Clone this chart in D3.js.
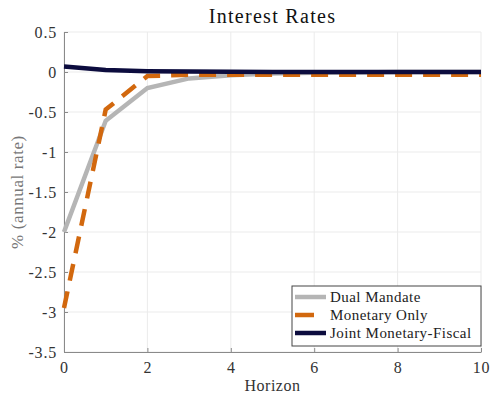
<!DOCTYPE html>
<html>
<head>
<meta charset="utf-8">
<script src="https://cdn.jsdelivr.net/npm/d3@7"></script>
<style>
  body { margin: 0; background: #fff; }
  svg text { font-family: "Liberation Serif", "DejaVu Serif", serif; }
</style>
</head>
<body>
<svg id="chart" width="491" height="395"></svg>
<script>
// horizon steps
var horizon = [0, 1, 2, 3, 4, 5, 6, 7, 8, 9, 10];

// series values (% annual rate)
var dualMandate = [-2.0, -0.61, -0.2, -0.08, -0.04, -0.02, -0.01, -0.005, 0, 0, 0];
var monetaryOnly = [-2.95, -0.47, -0.05, -0.035, -0.035, -0.035, -0.035, -0.035, -0.035, -0.035, -0.035];
var jointFiscal = [0.07, 0.025, 0.01, 0.005, 0.002, 0, 0, 0, 0, 0, 0];

var seriesNames = ["Dual Mandate", "Monetary Only", "Joint Monetary-Fiscal"];
var xTicks = [0, 2, 4, 6, 8, 10];
var yTicks = [0.5, 0, -0.5, -1, -1.5, -2, -2.5, -3, -3.5];

var svg = d3.select("#chart"),
    margin = {top: 32, right: 10, bottom: 43, left: 64},
    width = 491 - margin.left - margin.right,
    height = 395 - margin.top - margin.bottom,
    g = svg.append("g").attr("transform", "translate(" + margin.left + "," + margin.top + ")");

var x = d3.scaleLinear().domain([0, 10]).range([0, width]);
var y = d3.scaleLinear().domain([-3.5, 0.5]).range([height, 0]);

// grid
g.selectAll(".gx").data(xTicks).enter().append("line")
    .attr("x1", function (d) { return x(d); }).attr("x2", function (d) { return x(d); })
    .attr("y1", 0).attr("y2", height)
    .attr("stroke", "#ebebeb").attr("stroke-width", 1);
g.selectAll(".gy").data(yTicks).enter().append("line")
    .attr("y1", function (d) { return y(d); }).attr("y2", function (d) { return y(d); })
    .attr("x1", 0).attr("x2", width)
    .attr("stroke", "#ebebeb").attr("stroke-width", 1);

// axes (ticks pointing inward)
var xAxis = g.append("g")
    .attr("transform", "translate(0," + height + ")")
    .call(d3.axisBottom(x).tickValues(xTicks).tickSizeInner(-4).tickSizeOuter(0).tickPadding(10)
        .tickFormat(d3.format("d")));
var yAxis = g.append("g")
    .call(d3.axisLeft(y).tickValues(yTicks).tickSizeInner(-4).tickSizeOuter(0).tickPadding(7)
        .tickFormat(function (d) { return String(d); }));

[xAxis, yAxis].forEach(function (a) {
    a.select(".domain").attr("stroke", "#8a8a8a");
    a.selectAll(".tick line").attr("stroke", "#8a8a8a");
    a.selectAll(".tick text")
        .style("font-family", "'Liberation Serif', serif")
        .style("font-size", "16px")
        .style("letter-spacing", "0.8px")
        .attr("fill", "#333");
});

var line = d3.line()
    .x(function (d, i) { return x(horizon[i]); })
    .y(function (d) { return y(d); });

g.append("path").datum(dualMandate)
    .attr("fill", "none").attr("stroke", "#b5b5b5").attr("stroke-width", 4.5)
    .attr("d", line);
g.append("path").datum(monetaryOnly)
    .attr("fill", "none").attr("stroke", "#d2680e").attr("stroke-width", 4.5)
    .attr("stroke-dasharray", "17,11")
    .attr("d", line);
g.append("path").datum(jointFiscal)
    .attr("fill", "none").attr("stroke", "#0c0c3e").attr("stroke-width", 4.5)
    .attr("d", line);

// title and labels
svg.append("text")
    .attr("x", margin.left + width / 2).attr("y", 23)
    .attr("text-anchor", "middle")
    .style("font-size", "20px").style("letter-spacing", "1.3px").attr("fill", "#111")
    .text("Interest Rates");

svg.append("text")
    .attr("x", margin.left + width / 2).attr("y", 391)
    .attr("text-anchor", "middle")
    .style("font-size", "16px").style("letter-spacing", "0.5px").attr("fill", "#333")
    .text("Horizon");

svg.append("text")
    .attr("transform", "translate(23," + (margin.top + height / 2) + ") rotate(-90)")
    .attr("text-anchor", "middle")
    .style("font-size", "17px").style("letter-spacing", "0.6px").attr("fill", "#777")
    .text("% (annual rate)");

// legend
var legend = svg.append("g").attr("transform", "translate(292,286)");
legend.append("rect")
    .attr("width", 189).attr("height", 60)
    .attr("fill", "#fff").attr("stroke", "#444").attr("stroke-width", 1);

var legColors = ["#b5b5b5", "#d2680e", "#0c0c3e"];
var legLen = [31, 19, 31];
seriesNames.forEach(function (name, i) {
    var yy = 11 + i * 18;
    legend.append("line")
        .attr("x1", 3).attr("x2", 3 + legLen[i])
        .attr("y1", yy).attr("y2", yy)
        .attr("stroke", legColors[i]).attr("stroke-width", 4.5);
    legend.append("text")
        .attr("x", 38).attr("y", yy + 5)
        .style("font-size", "15px").style("letter-spacing", "0.45px").attr("fill", "#222")
        .text(name);
});
</script>
</body>
</html>
